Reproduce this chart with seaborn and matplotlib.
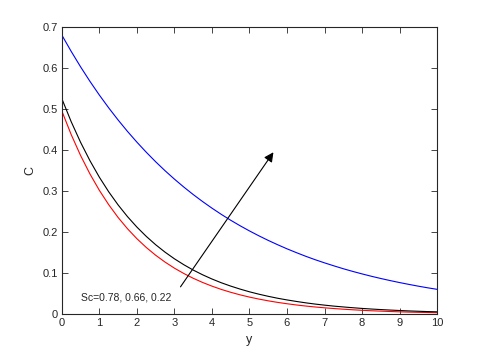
import numpy as np
import pandas as pd
import seaborn as sns
import matplotlib
matplotlib.use("Agg")
import matplotlib.pyplot as plt

# data
y_vals = [0, 0.25, 0.5, 0.75, 1, 1.25, 1.5, 1.75, 2, 2.25, 2.5, 2.75, 3, 3.25, 3.5, 3.75, 4, 4.25,
          4.5, 4.75, 5, 5.25, 5.5, 5.75, 6, 6.25, 6.5, 6.75, 7, 7.25, 7.5, 7.75, 8, 8.25, 8.5, 8.75,
          9, 9.25, 9.5, 9.75, 10]
c_red = [0.495, 0.4374, 0.3865, 0.3415, 0.3017, 0.2666, 0.2355, 0.2081, 0.1839, 0.1625, 0.1436,
         0.1269, 0.1121, 0.0991, 0.0875, 0.0773, 0.0683, 0.0603, 0.0533, 0.0471, 0.0416, 0.0368,
         0.0325, 0.0287, 0.0254, 0.0224, 0.0198, 0.0175, 0.0155, 0.0137, 0.0121, 0.0107, 0.0094,
         0.0083, 0.0074, 0.0065, 0.0057, 0.0050, 0.0045, 0.0040, 0.0035]
c_black = [0.525, 0.4688, 0.4186, 0.3738, 0.3337, 0.2980, 0.2661, 0.2376, 0.2122, 0.1895, 0.1692,
           0.1511, 0.1349, 0.1205, 0.1075, 0.0960, 0.0857, 0.0765, 0.0684, 0.0611, 0.0545, 0.0487,
           0.0435, 0.0388, 0.0347, 0.0310, 0.0276, 0.0246, 0.0220, 0.0196, 0.0176, 0.0157, 0.0140,
           0.0125, 0.0112, 0.0100, 0.0089, 0.0079, 0.0071, 0.0063, 0.0057]
c_blue = [0.680, 0.6401, 0.6025, 0.5671, 0.5338, 0.5025, 0.4730, 0.4452, 0.4191, 0.3945, 0.3713,
          0.3495, 0.3290, 0.3097, 0.2915, 0.2744, 0.2583, 0.2431, 0.2288, 0.2154, 0.2028, 0.1909,
          0.1797, 0.1692, 0.1592, 0.1499, 0.1410, 0.1327, 0.1250, 0.1177, 0.1107, 0.1042, 0.0981,
          0.0923, 0.0869, 0.0818, 0.0770, 0.0725, 0.0682, 0.0642, 0.0605]
sc_labels = ["0.78", "0.66", "0.22"]

n = len(y_vals)
df = pd.DataFrame({
    "y": y_vals * 3,
    "C": c_red + c_black + c_blue,
    "Sc": [sc_labels[0]] * n + [sc_labels[1]] * n + [sc_labels[2]] * n,
})

sns.set_style("ticks")
plt.rcParams['font.family'] = ['Liberation Sans', 'DejaVu Sans']

fig = plt.figure(figsize=(4.83, 3.53), dpi=100)
ax = fig.add_axes([0.128, 0.110, 0.777, 0.814])

sns.lineplot(data=df, x="y", y="C", hue="Sc", palette=["red", "black", "blue"],
             linewidth=0.8, legend=False, ax=ax)

ax.set_xlim(0, 10)
ax.set_ylim(0, 0.7)
ax.set_xticks(range(0, 11))
ax.set_yticks([0, 0.1, 0.2, 0.3, 0.4, 0.5, 0.6, 0.7])
ax.set_yticklabels(["0", "0.1", "0.2", "0.3", "0.4", "0.5", "0.6", "0.7"])
ax.tick_params(direction="in", top=True, right=True, length=4, width=0.6,
               labelsize=8, colors="#262626", pad=3)
for s in ax.spines.values():
    s.set_linewidth(0.8)
    s.set_color("#262626")
ax.set_xlabel("y", fontsize=9, color="#262626")
ax.set_ylabel("C", fontsize=9, color="#262626")

ax.annotate("", xy=(5.68, 0.40), xytext=(3.12, 0.061),
            arrowprops=dict(arrowstyle="-|>", color="black", lw=0.8, mutation_scale=14))
ax.text(0.5, 0.041, "Sc=" + ", ".join(sc_labels), fontsize=7.5, va="center", ha="left")

fig.savefig("out.png", dpi=100)
